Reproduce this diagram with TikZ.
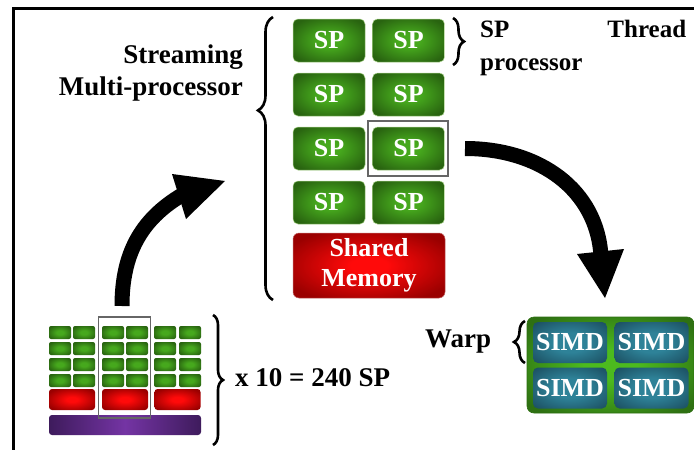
\documentclass[tikz,border=0pt]{standalone}
\usepackage{fontspec}
\setmainfont{Liberation Serif}[BoldFont={Liberation Serif Bold}]
\newfontfamily\tnr{Liberation Serif}[BoldFont={Liberation Serif Bold}]
\usetikzlibrary{decorations.pathreplacing}
\definecolor{spin}{HTML}{46A81D}
\definecolor{spout}{HTML}{296410}
\definecolor{spedge}{HTML}{A8D088}
\definecolor{memin}{HTML}{FF0A0A}
\definecolor{memout}{HTML}{9A0000}
\definecolor{purpin}{HTML}{7434A4}
\definecolor{purpout}{HTML}{3E1B5C}
\definecolor{simdin}{HTML}{2E8298}
\definecolor{simdout}{HTML}{1C5062}
\definecolor{warpin}{HTML}{4CBA1E}
\definecolor{warpout}{HTML}{2E7012}
\pgfdeclareradialshading{spsh}{\pgfpoint{0bp}{0bp}}{color(0bp)=(spin); color(8bp)=(spin); color(30bp)=(spout); color(72bp)=(spout)}
\pgfdeclareradialshading{memsh}{\pgfpoint{0bp}{0bp}}{color(0bp)=(memin); color(6bp)=(memin); color(30bp)=(memout); color(72bp)=(memout)}
\pgfdeclareradialshading{simdsh}{\pgfpoint{0bp}{0bp}}{color(0bp)=(simdin); color(12bp)=(simdin); color(34bp)=(simdout); color(72bp)=(simdout)}
\pgfdeclareradialshading{warpsh}{\pgfpoint{0bp}{0bp}}{color(0bp)=(warpin); color(8bp)=(warpin); color(32bp)=(warpout); color(72bp)=(warpout)}
\begin{document}
\begin{tikzpicture}[x=1pt,y=-1pt,
  lbl/.style={font=\tnr\bfseries\fontsize{27}{32}\selectfont, inner sep=0pt},
  spbox/.style={rectangle, rounded corners=5pt, inner sep=0pt, shade, shading=spsh,
    draw=spedge, line width=0.5pt, minimum width=72pt, minimum height=43pt,
    text=white, font=\tnr\bfseries\fontsize{26}{30}\selectfont},
  membox/.style={rectangle, rounded corners=6pt, inner sep=0pt, shade, shading=memsh,
    draw=memout!60!white, line width=0.5pt, text=white, align=center,
    font=\tnr\bfseries\fontsize{26}{30}\selectfont},
  chipsp/.style={rectangle, rounded corners=2pt, inner sep=0pt, shade, shading=spsh,
    minimum width=22pt, minimum height=13pt},
  chipmem/.style={rectangle, rounded corners=3pt, inner sep=0pt, shade, shading=memsh,
    minimum width=46pt, minimum height=21pt},
  chipbase/.style={rectangle, rounded corners=3pt, inner sep=0pt,
    left color=purpout, right color=purpout, middle color=purpin,
    minimum width=152pt, minimum height=20pt},
  simdbox/.style={rectangle, rounded corners=5pt, inner sep=0pt, shade, shading=simdsh,
    minimum width=74pt, minimum height=41pt, text=white,
    font=\tnr\bfseries\fontsize{26}{30}\selectfont},
  warpbox/.style={rectangle, rounded corners=7pt, inner sep=0pt, shade, shading=warpsh,
    draw=warpout, line width=0.6pt},
  hilite/.style={draw=black!60, line width=1.8pt},
  bracestyle/.style={decorate, line width=2.6pt},
  bigarrow/.style={line width=15pt},
]
\useasboundingbox[fill=white] (0,0) rectangle (694,450);
% frame
\draw[line width=2.8pt] (13.5,470) -- (13.5,8.5) -- (720,8.5);

% streaming multiprocessor
\node[spbox] (sp11) at (329,40.5) {SP};
\node[spbox] (sp12) at (408.5,40.5) {SP};
\node[spbox] (sp21) at (329,94.5) {SP};
\node[spbox] (sp22) at (408.5,94.5) {SP};
\node[spbox] (sp31) at (329,148.5) {SP};
\node[spbox] (sp32) at (408.5,148.5) {SP};
\node[spbox] (sp41) at (329,202.5) {SP};
\node[spbox] (sp42) at (408.5,202.5) {SP};
\node[membox, minimum width=152pt, minimum height=65pt] (mem) at (369,265.5) {Shared\\Memory};
\draw[hilite] (368,121) rectangle (448,176);

% braces
\draw[bracestyle, decoration={brace, amplitude=15pt, aspect=0.67}] (273,300) -- (273,17);
\draw[bracestyle, decoration={brace, amplitude=11pt}] (453,18) -- (453,65);
\draw[bracestyle, decoration={brace, amplitude=10pt}] (213,315) -- (213,445);
\draw[bracestyle, decoration={brace, amplitude=11pt}] (525,363) -- (525,321);

% labels
\node[lbl, anchor=base east, align=right] (smlbl) at (243,95) {Streaming\\Multi-processor};
\node[lbl, anchor=base west, text width=206pt, align=left,
  font=\tnr\bfseries\fontsize{25}{33}\selectfont] (splbl) at (480,37) {SP\hfill Thread\\processor};
\node[lbl, anchor=base west] (cnt) at (235,386) {x 10 = 240 SP};
\node[lbl, anchor=base west] (warplbl) at (425,347) {Warp};

% chip
\foreach \c/\x in {1/60,2/84,3/113,4/137,5/165,6/190}{
  \foreach \r/\y in {1/332.5,2/348.5,3/364.5,4/380.5}{
    \node[chipsp] (c\c\r) at (\x,\y) {};
  }
}
\node[chipmem] (cm1) at (72,399.5) {};
\node[chipmem] (cm2) at (125,399.5) {};
\node[chipmem] (cm3) at (177.5,399.5) {};
\node[chipbase] (cbase) at (125,425) {};
\draw[hilite] (98.5,317) rectangle (150.5,418);

% warp
\node[warpbox, minimum width=167pt, minimum height=96pt] (warp) at (610.5,365) {};
\node[simdbox] (s11) at (570,342.5) {SIMD};
\node[simdbox] (s12) at (651.5,342.5) {SIMD};
\node[simdbox] (s21) at (570,388) {SIMD};
\node[simdbox] (s22) at (651.5,388) {SIMD};

% arrows
\coordinate (a1s) at (122,306);
\coordinate (a1e) at (182,195);
\coordinate (h1a) at (172,174);
\coordinate (h1b) at (225,181);
\coordinate (h1c) at (186,219);
\draw[bigarrow] (a1s) .. controls (122,255) and (140,220) .. (a1e);
\fill (h1a) -- (h1b) -- (h1c) -- cycle;

\coordinate (a2s) at (465,148.5);
\coordinate (a2e) at (601,256);
\coordinate (h2a) at (577,254);
\coordinate (h2b) at (605,298);
\coordinate (h2c) at (624,249);
\draw[bigarrow] (a2s) .. controls (540,148.5) and (597,190) .. (a2e);
\fill (h2a) -- (h2b) -- (h2c) -- cycle;
\end{tikzpicture}
\end{document}
